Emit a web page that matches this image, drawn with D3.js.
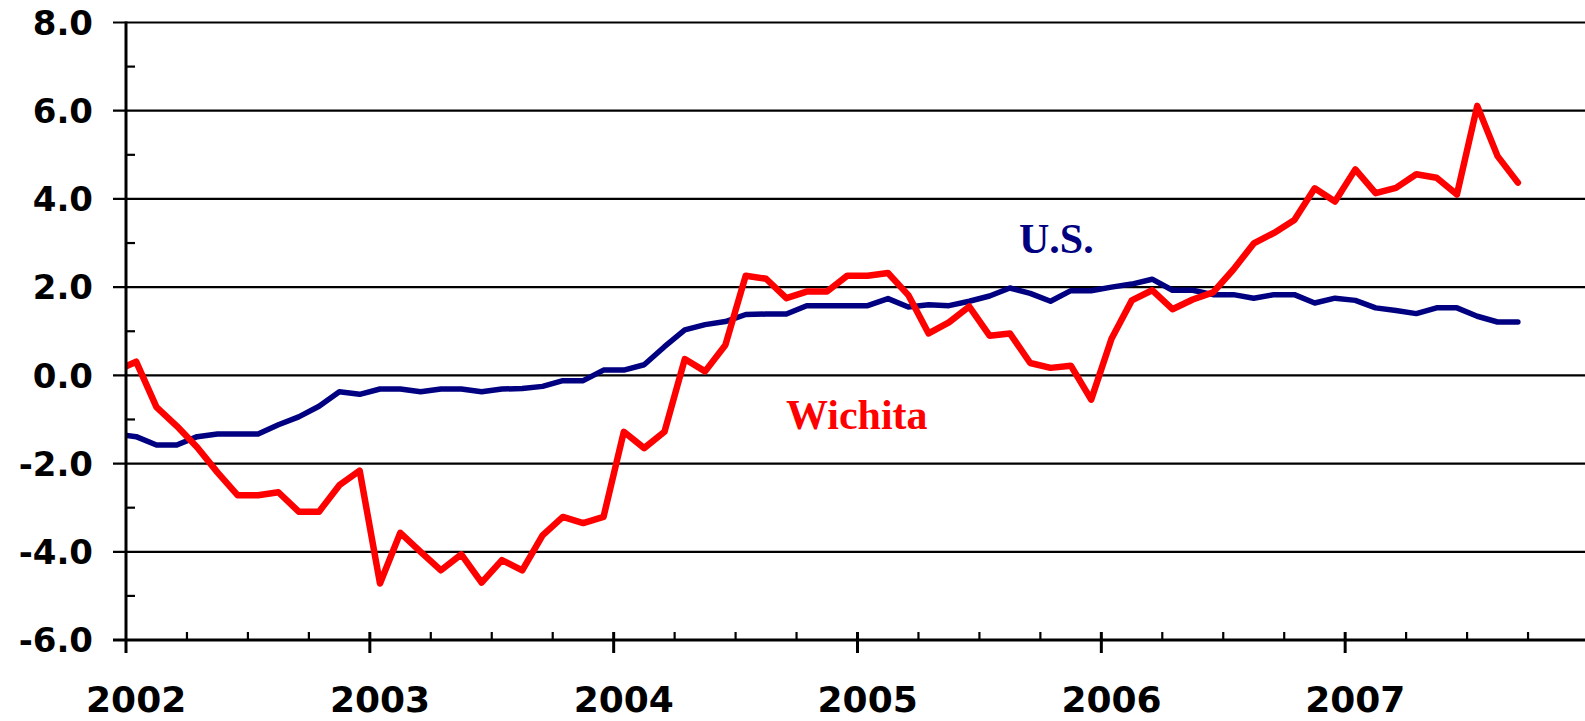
<!DOCTYPE html>
<html lang="en">
<head>
  <meta charset="UTF-8">
  <title>Wichita vs U.S.</title>
  <script src="https://d3js.org/d3.v7.min.js"></script>
  <style>
    body { margin: 0; background: #fff; }
    .axis-label { font-family: "DejaVu Sans", Verdana, sans-serif; font-weight: bold; fill: #000; }
    .series-label { font-family: "Liberation Serif", "Times New Roman", serif; font-weight: bold; }
  </style>
</head>
<body>
  <div id="chart"></div>

  <script>
    // year labels on the x axis (one per January)
    const years = ["2002", "2003", "2004", "2005", "2006", "2007"];
    // y axis ticks
    const yTicks = [-6, -4, -2, 0, 2, 4, 6, 8];

    // monthly values, Dec 2001 .. Oct 2007 (first point is clipped by the axis)
    const wichita = [
      0.1,
      0.31, -0.72, -1.15, -1.63, -2.2, -2.72, -2.72, -2.65, -3.09, -3.09, -2.49, -2.16,
      -4.72, -3.57, -4.0, -4.42, -4.06, -4.7, -4.19, -4.42, -3.63, -3.21, -3.35, -3.21,
      -1.28, -1.65, -1.28, 0.37, 0.09, 0.69, 2.26, 2.19, 1.75, 1.9, 1.9, 2.26,
      2.26, 2.32, 1.82, 0.95, 1.2, 1.56, 0.9, 0.95, 0.28, 0.17, 0.22, -0.55,
      0.83, 1.7, 1.93, 1.5, 1.72, 1.88, 2.4, 2.99, 3.23, 3.52, 4.24, 3.94,
      4.67, 4.13, 4.25, 4.56, 4.48, 4.1, 6.11, 4.97, 4.37
    ];
    const us = [
      -1.33,
      -1.39, -1.58, -1.58, -1.39, -1.33, -1.33, -1.33, -1.12, -0.94, -0.7, -0.37, -0.43,
      -0.31, -0.31, -0.37, -0.31, -0.31, -0.37, -0.31, -0.3, -0.25, -0.12, -0.12, 0.12,
      0.12, 0.24, 0.65, 1.03, 1.15, 1.22, 1.38, 1.39, 1.39, 1.58, 1.58, 1.58,
      1.58, 1.74, 1.55, 1.6, 1.58, 1.68, 1.8, 1.98, 1.86, 1.68, 1.92, 1.92,
      2.0, 2.07, 2.18, 1.93, 1.93, 1.83, 1.83, 1.75, 1.83, 1.83, 1.64, 1.75,
      1.7, 1.53, 1.47, 1.4, 1.53, 1.53, 1.34, 1.21, 1.21
    ];
    const firstMonth = -1; // index of first value, 0 = Jan 2002

    const width = 1585, height = 721;
    const plotLeft = 126, plotTop = 22.5, plotBottom = 640, plotRight = 1585;

    const svg = d3.select("#chart").append("svg")
      .attr("width", width)
      .attr("height", height);

    // month index -> x (72 months, Jan 2002 .. Jan 2008)
    const x = d3.scaleLinear().domain([0, 72]).range([plotLeft, 1589]);
    const y = d3.scaleLinear().domain([-6, 8]).range([plotBottom, plotTop]);

    // grid lines
    svg.append("g")
      .selectAll("line")
      .data(yTicks.filter(d => d !== -6))
      .join("line")
      .attr("x1", plotLeft - 13).attr("x2", plotRight)
      .attr("y1", d => y(d)).attr("y2", d => y(d))
      .attr("stroke", "#000").attr("stroke-width", 2.2);

    // y minor ticks (inside)
    svg.append("g")
      .selectAll("line")
      .data(d3.range(-5, 8, 2))
      .join("line")
      .attr("x1", plotLeft).attr("x2", plotLeft + 9)
      .attr("y1", d => y(d)).attr("y2", d => y(d))
      .attr("stroke", "#000").attr("stroke-width", 2.2);

    // y labels
    svg.append("g")
      .selectAll("text")
      .data(yTicks)
      .join("text")
      .attr("class", "axis-label")
      .attr("x", 93)
      .attr("y", d => y(d))
      .attr("dy", "0.36em")
      .attr("text-anchor", "end")
      .style("font-size", "34px")
      .text(d => d.toFixed(1));

    // series
    svg.append("clipPath").attr("id", "plot")
      .append("rect")
      .attr("x", plotLeft + 1).attr("y", 0)
      .attr("width", plotRight - plotLeft).attr("height", plotBottom);

    const line = d3.line()
      .x((d, i) => x(firstMonth + i + 0.5))
      .y(d => y(d));

    const plot = svg.append("g").attr("clip-path", "url(#plot)");

    plot.append("path")
      .datum(us)
      .attr("d", line)
      .attr("fill", "none")
      .attr("stroke", "#000080")
      .attr("stroke-width", 5.5)
      .attr("stroke-linejoin", "round")
      .attr("stroke-linecap", "round");

    plot.append("path")
      .datum(wichita)
      .attr("d", line)
      .attr("fill", "none")
      .attr("stroke", "#ff0000")
      .attr("stroke-width", 6.5)
      .attr("stroke-linejoin", "round")
      .attr("stroke-linecap", "round");

    // x axis
    svg.append("line")
      .attr("x1", plotLeft - 13).attr("x2", plotRight)
      .attr("y1", plotBottom).attr("y2", plotBottom)
      .attr("stroke", "#000").attr("stroke-width", 3);

    // y axis
    svg.append("line")
      .attr("x1", plotLeft).attr("x2", plotLeft)
      .attr("y1", plotTop - 1).attr("y2", plotBottom + 13)
      .attr("stroke", "#000").attr("stroke-width", 3);

    // quarterly minor ticks and yearly major ticks
    svg.append("g")
      .selectAll("line")
      .data(d3.range(3, 72, 3).filter(m => m % 12 !== 0))
      .join("line")
      .attr("x1", d => x(d)).attr("x2", d => x(d))
      .attr("y1", plotBottom - 8).attr("y2", plotBottom)
      .attr("stroke", "#000").attr("stroke-width", 2.2);

    svg.append("g")
      .selectAll("line")
      .data(years.map((d, i) => i * 12).filter(m => m > 0))
      .join("line")
      .attr("x1", d => x(d)).attr("x2", d => x(d))
      .attr("y1", plotBottom - 8).attr("y2", plotBottom + 13)
      .attr("stroke", "#000").attr("stroke-width", 3);

    // year labels, centred on January
    svg.append("g")
      .selectAll("text")
      .data(years)
      .join("text")
      .attr("class", "axis-label")
      .attr("x", (d, i) => x(i * 12 + 0.5))
      .attr("y", 712)
      .attr("text-anchor", "middle")
      .style("font-size", "36px")
      .text(d => d);

    // series labels
    svg.append("text")
      .attr("class", "series-label")
      .attr("x", 1019).attr("y", 253)
      .attr("fill", "#000080")
      .style("font-size", "42px")
      .text("U.S.");

    svg.append("text")
      .attr("class", "series-label")
      .attr("x", 786).attr("y", 429)
      .attr("fill", "#ff0000")
      .style("font-size", "42px")
      .text("Wichita");
  </script>
</body>
</html>
